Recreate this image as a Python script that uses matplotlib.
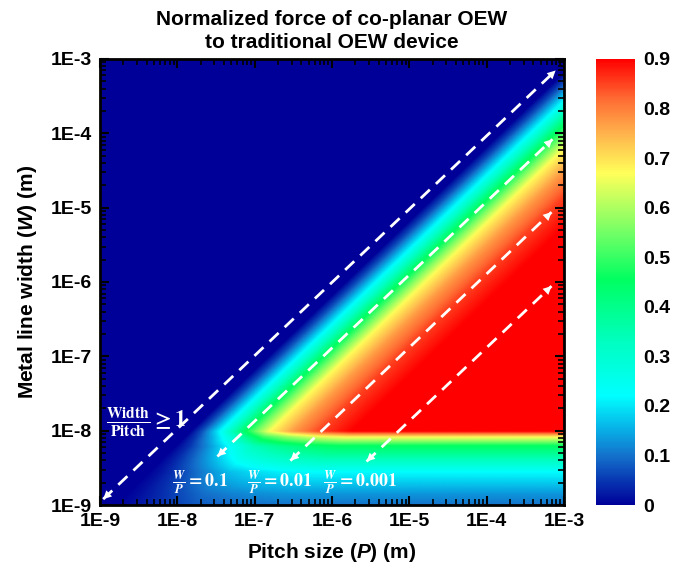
import numpy as np
import matplotlib
matplotlib.use('Agg')
import matplotlib.pyplot as plt
from matplotlib.colors import LinearSegmentedColormap
from matplotlib.ticker import LogLocator, NullFormatter

plt.rcParams['font.family'] = ['Liberation Sans', 'DejaVu Sans']
plt.rcParams['font.weight'] = 'bold'
plt.rcParams['mathtext.fontset'] = 'custom'
plt.rcParams['mathtext.rm'] = 'Liberation Sans:bold'
plt.rcParams['mathtext.it'] = 'Liberation Sans:italic:bold'
plt.rcParams['mathtext.bf'] = 'Liberation Sans:bold'
plt.rcParams['mathtext.bfit'] = 'Liberation Sans:italic:bold'

# ---------------- data ----------------
x_ticks = [1e-9, 1e-8, 1e-7, 1e-6, 1e-5, 1e-4, 1e-3]
x_tick_labels = ['1E-9', '1E-8', '1E-7', '1E-6', '1E-5', '1E-4', '1E-3']
y_ticks = [1e-9, 1e-8, 1e-7, 1e-6, 1e-5, 1e-4, 1e-3]
y_tick_labels = ['1E-9', '1E-8', '1E-7', '1E-6', '1E-5', '1E-4', '1E-3']
cbar_ticks = [0, 0.1, 0.2, 0.3, 0.4, 0.5, 0.6, 0.7, 0.8, 0.9]
cbar_tick_labels = ['0', '0.1', '0.2', '0.3', '0.4', '0.5', '0.6', '0.7', '0.8', '0.9']

# normalized force read across the diagonal bands (vs log10(W/P)), for W >= 1E-8
ratio_log = [-6.0, -2.27, -1.85, -1.5, -1.2, -0.88, -0.555, -0.335, -0.17, 0.0, 6.0]
ratio_force = [0.90, 0.90, 0.85, 0.77, 0.67, 0.45, 0.22, 0.08, 0.0, 0.0, 0.0]
# normalized force read down the right edge (vs log10(W)), small W/P
width_log = [-9.0, -8.85, -8.55, -8.2, -8.08, -8.0, -3.0]
width_force = [0.10, 0.13, 0.22, 0.45, 0.67, 0.90, 0.90]

# guide lines: W/P >= 1, 0.1, 0.01, 0.001 (start / end points, P and W in m)
guide_P_start = [1.1e-9, 3.3e-8, 2.9e-7, 2.8e-6]
guide_W_start = [1.2e-9, 4.5e-9, 3.95e-9, 3.85e-9]
guide_P_end = [7.8e-4, 7.1e-4, 6.9e-4, 6.9e-4]
guide_W_end = [7.0e-4, 8.3e-5, 8.7e-6, 8.8e-7]
guide_texts = [r'$\frac{\mathbfit{W}}{\mathbfit{P}}\mathbf{= 0.1}$',
               r'$\frac{\mathbfit{W}}{\mathbfit{P}}\mathbf{= 0.01}$',
               r'$\frac{\mathbfit{W}}{\mathbfit{P}}\mathbf{= 0.001}$']

# colormap (value, colour)
cmap_vals = [0.0, 0.05, 0.10, 0.15, 0.22, 0.33, 0.455, 0.55, 0.67, 0.75, 0.82, 0.9]
cmap_cols = [(0.0, 0.0, 0.6), (0.03, 0.22, 0.7), (0.08, 0.45, 0.8), (0.03, 0.68, 0.9),
             (0.0, 1.0, 1.0), (0.0, 1.0, 0.75), (0.0, 1.0, 0.38), (0.45, 1.0, 0.4),
             (1.0, 1.0, 0.35), (1.0, 0.7, 0.3), (1.0, 0.42, 0.2), (1.0, 0.0, 0.0)]

# ---------------- field ----------------
lp = np.linspace(-9, -3, 600)
lw = np.linspace(-9, -3, 600)
LP, LW = np.meshgrid(lp, lw)
g = np.interp(LW - LP, ratio_log, ratio_force) / 0.9
h = np.interp(LW, width_log, width_force) / 0.9
Z = 0.9 * g * h

cmap = LinearSegmentedColormap.from_list(
    'oew', [(v / 0.9, c) for v, c in zip(cmap_vals, cmap_cols)], N=512)

fig = plt.figure(figsize=(6.75, 5.72), dpi=100)
ax = fig.add_axes([0.1481, 0.1171, 0.6874, 0.7798])
cax = fig.add_axes([0.883, 0.1171, 0.057, 0.7798])

mesh = ax.pcolormesh(10 ** lp, 10 ** lw, Z, cmap=cmap, vmin=0, vmax=0.9,
                     shading='gouraud', rasterized=True)
ax.set_xscale('log')
ax.set_yscale('log')
ax.set_xlim(1e-9, 1e-3)
ax.set_ylim(1e-9, 1e-3)

ax.set_xticks(x_ticks)
ax.set_xticklabels(x_tick_labels)
ax.set_yticks(y_ticks)
ax.set_yticklabels(y_tick_labels)
for a in (ax.xaxis, ax.yaxis):
    a.set_minor_locator(LogLocator(base=10, subs=np.arange(2, 10), numticks=20))
    a.set_minor_formatter(NullFormatter())
ax.tick_params(which='major', direction='in', length=6.5, width=1.5,
               top=True, right=True, labelsize=14, pad=6)
ax.tick_params(which='minor', direction='in', length=4, width=1.2,
               top=True, right=True)
for s in ax.spines.values():
    s.set_linewidth(2)

ax.set_xlabel(r'Pitch size ($\mathbfit{P}$) (m)', fontsize=15, fontweight='bold', labelpad=8)
ax.set_ylabel(r'Metal line width ($\mathbfit{W}$) (m)', fontsize=15, fontweight='bold', labelpad=8)
ax.set_title('Normalized force of co-planar OEW\nto traditional OEW device',
             fontsize=15, fontweight='bold', pad=8, linespacing=1.25)

# guide lines with arrow heads on both ends
for ps, ws, pe, we in zip(guide_P_start, guide_W_start, guide_P_end, guide_W_end):
    ax.plot([ps, pe], [ws, we], color='white', lw=2, ls=(0, (4.5, 3)))
    for (tx, ty), (fx, fy) in (((ps, ws), (pe, we)), ((pe, we), (ps, ws))):
        dx = np.log10(fx) - np.log10(tx)
        dy = np.log10(fy) - np.log10(ty)
        n = np.hypot(dx, dy)
        bx = 10 ** (np.log10(tx) + 0.15 * dx / n)
        by = 10 ** (np.log10(ty) + 0.15 * dy / n)
        ax.annotate('', xy=(tx, ty), xytext=(bx, by),
                    arrowprops=dict(arrowstyle='-|>', color='white', lw=0,
                                    mutation_scale=15, shrinkA=0, shrinkB=0))

ax.text(0.012, 0.186, r'$\mathbf{\frac{Width}{Pitch}}\geq\mathbf{1}$', transform=ax.transAxes,
        color='white', fontsize=16, va='center', ha='left', math_fontfamily='stix')
for xpos, t in zip([0.155, 0.317, 0.481], guide_texts):
    ax.text(xpos, 0.052, t, transform=ax.transAxes, color='white', fontsize=13,
            va='center', ha='left', math_fontfamily='stix')

cb = fig.colorbar(mesh, cax=cax, ticks=cbar_ticks)
cb.ax.set_yticklabels(cbar_tick_labels)
cb.outline.set_visible(False)
cb.ax.tick_params(length=0, labelsize=14, pad=6)

fig.savefig('out.png', dpi=100)
